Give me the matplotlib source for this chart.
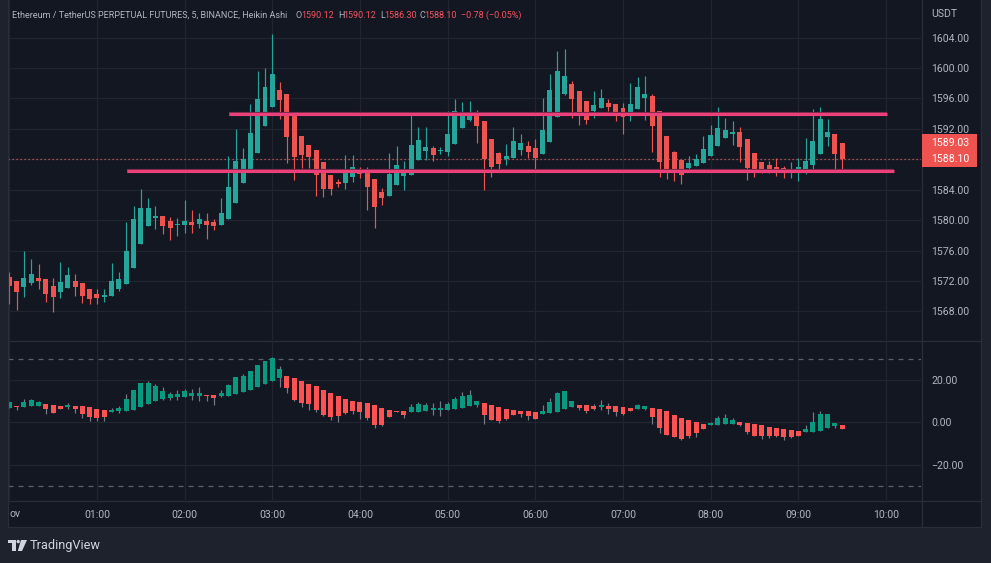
import matplotlib
matplotlib.use('Agg')
import matplotlib.pyplot as plt
from matplotlib.patches import Rectangle, Circle, Polygon
import numpy as np

plt.rcParams['font.family'] = ['Roboto', 'DejaVu Sans']

# ---------------- data ----------------
main_open = [1572.53, 1572.01, 1571.22, 1571.75, 1572.40, 1572.27, 1571.35, 1570.56, 1571.09, 1572.01,
             1571.75, 1570.96, 1570.30, 1569.91, 1570.04, 1570.96, 1571.61, 1573.71, 1576.87, 1579.23,
             1580.29, 1580.55, 1579.89, 1579.41, 1579.36, 1579.76, 1579.50, 1579.89, 1579.76, 1579.36,
             1580.15, 1582.25, 1584.88, 1586.46, 1588.82, 1592.37, 1594.87, 1597.10, 1596.58, 1593.82,
             1591.06, 1589.87, 1589.22, 1587.64, 1585.93, 1585.01, 1584.88, 1585.67, 1586.46, 1586.33,
             1585.41, 1583.70, 1583.17, 1584.62, 1585.80, 1585.93, 1587.90, 1589.09, 1589.48, 1589.04,
             1588.96, 1590.01, 1592.11, 1593.16, 1593.69, 1593.03, 1590.66, 1588.82, 1588.04, 1588.17,
             1589.22, 1589.74, 1589.48, 1588.69, 1590.27, 1593.56, 1596.58, 1597.89, 1596.97, 1595.66,
             1594.34, 1594.74, 1595.40, 1595.26, 1594.74, 1594.08, 1594.61, 1596.05, 1596.31, 1594.34,
             1591.06, 1588.96, 1587.90, 1586.85, 1587.12, 1587.51, 1588.43, 1589.74, 1590.80, 1591.32,
             1591.58, 1590.66, 1588.82, 1587.64, 1587.25, 1586.98, 1586.85, 1586.46, 1586.46, 1586.72,
             1587.25, 1588.69, 1590.93, 1591.32, 1590.12]
main_high = [1573.19, 1572.01, 1575.95, 1574.90, 1574.24, 1572.27, 1572.40, 1574.50, 1573.85, 1572.93,
             1571.75, 1570.96, 1570.96, 1570.96, 1574.37, 1573.19, 1579.76, 1581.86, 1584.10, 1582.91,
             1581.86, 1580.55, 1580.42, 1580.29, 1582.65, 1581.34, 1580.94, 1580.94, 1580.15, 1582.91,
             1588.43, 1591.98, 1589.48, 1595.26, 1599.60, 1599.99, 1604.46, 1598.15, 1596.58, 1593.82,
             1591.06, 1589.87, 1589.22, 1587.64, 1585.93, 1585.41, 1588.56, 1588.56, 1586.98, 1586.98,
             1585.41, 1584.23, 1588.82, 1589.75, 1587.77, 1593.82, 1592.24, 1592.24, 1589.75, 1589.61,
             1594.34, 1595.92, 1595.52, 1595.66, 1594.47, 1593.03, 1590.66, 1588.96, 1590.01, 1592.24,
             1591.32, 1590.40, 1590.66, 1596.05, 1599.20, 1602.23, 1602.49, 1598.28, 1596.97, 1595.66,
             1596.97, 1597.23, 1595.92, 1595.26, 1595.40, 1598.02, 1598.81, 1598.94, 1596.58, 1594.34,
             1591.06, 1589.09, 1587.90, 1588.43, 1588.69, 1591.06, 1592.50, 1594.87, 1593.42, 1593.03,
             1592.24, 1590.66, 1588.82, 1587.64, 1587.77, 1588.17, 1587.12, 1587.64, 1588.17, 1590.80,
             1594.61, 1594.87, 1593.29, 1591.32, 1590.12]
main_low = [1569.03, 1568.20, 1569.95, 1571.48, 1570.96, 1569.25, 1567.93, 1569.78, 1571.09, 1570.04,
            1569.12, 1568.99, 1568.99, 1569.25, 1570.04, 1570.69, 1571.61, 1573.71, 1576.87, 1579.23,
            1578.84, 1578.18, 1577.39, 1577.92, 1578.31, 1578.31, 1578.97, 1577.53, 1578.71, 1579.36,
            1580.15, 1582.25, 1584.88, 1586.46, 1588.82, 1592.37, 1594.87, 1593.29, 1587.51, 1585.28,
            1586.85, 1586.85, 1583.17, 1583.04, 1583.30, 1584.36, 1584.09, 1585.01, 1585.54, 1581.34,
            1578.97, 1581.99, 1583.17, 1584.62, 1583.96, 1585.93, 1587.90, 1587.90, 1587.77, 1588.69,
            1588.43, 1590.01, 1592.11, 1593.03, 1590.14, 1583.96, 1585.67, 1586.72, 1587.25, 1588.17,
            1588.56, 1588.17, 1586.33, 1588.69, 1590.27, 1593.56, 1596.45, 1593.42, 1592.50, 1592.64,
            1593.42, 1594.74, 1594.34, 1593.03, 1591.32, 1593.03, 1594.61, 1593.16, 1588.96, 1585.67,
            1585.41, 1585.15, 1584.75, 1586.59, 1587.12, 1587.51, 1588.43, 1589.74, 1590.80, 1589.88,
            1587.64, 1585.28, 1585.67, 1586.20, 1586.20, 1585.80, 1585.54, 1585.54, 1585.15, 1586.07,
            1586.72, 1588.69, 1589.75, 1586.46, 1586.30]
main_close = [1571.39, 1570.56, 1572.40, 1572.93, 1572.01, 1570.30, 1569.91, 1571.88, 1572.80, 1571.22,
              1570.04, 1569.64, 1569.78, 1570.17, 1572.01, 1572.27, 1575.95, 1580.15, 1581.60, 1581.60,
              1580.55, 1579.23, 1578.97, 1579.50, 1579.89, 1579.36, 1580.15, 1579.36, 1579.23, 1580.94,
              1584.36, 1587.77, 1588.04, 1591.45, 1595.92, 1597.50, 1599.20, 1595.79, 1590.93, 1588.30,
              1588.56, 1588.30, 1585.93, 1584.09, 1584.09, 1584.75, 1586.59, 1586.98, 1586.07, 1584.36,
              1581.73, 1582.91, 1586.07, 1587.25, 1586.20, 1589.88, 1590.53, 1589.61, 1588.56, 1589.13,
              1591.32, 1594.34, 1594.21, 1594.21, 1592.37, 1588.04, 1586.98, 1587.38, 1588.43, 1590.40,
              1590.14, 1588.96, 1588.17, 1591.85, 1597.10, 1599.60, 1598.94, 1595.92, 1594.21, 1593.16,
              1595.13, 1596.05, 1594.87, 1594.21, 1593.56, 1595.26, 1597.50, 1596.58, 1592.37, 1587.64,
              1586.72, 1586.59, 1585.93, 1587.51, 1588.04, 1589.35, 1591.19, 1592.11, 1591.85, 1591.58,
              1589.61, 1586.85, 1586.46, 1586.72, 1586.72, 1586.46, 1586.20, 1586.72, 1586.98, 1587.77,
              1590.40, 1593.29, 1591.58, 1588.69, 1588.10]

osc_open = [6.91, 7.70, 7.23, 7.70, 7.70, 8.65, 8.17, 7.70, 7.23, 7.70,
            7.70, 7.23, 6.28, 5.81, 4.87, 5.34, 5.34, 5.81, 7.23, 8.65,
            10.07, 11.01, 11.49, 11.96, 11.96, 12.43, 12.43, 12.90, 12.90, 12.43,
            12.43, 13.38, 14.32, 15.27, 16.69, 18.10, 19.52, 20.94, 21.89, 20.94,
            19.52, 18.10, 17.16, 15.27, 13.85, 12.43, 11.01, 10.07, 9.59, 9.12,
            8.17, 6.76, 5.81, 5.34, 5.34, 4.87, 4.87, 5.34, 5.81, 5.81,
            5.81, 6.28, 6.76, 7.70, 8.17, 9.12, 8.17, 7.23, 6.28, 5.81,
            5.34, 5.34, 4.87, 3.92, 4.39, 4.87, 6.28, 7.23, 8.17, 8.17,
            7.70, 7.23, 7.70, 7.70, 7.23, 6.76, 6.28, 6.28, 6.76, 6.28,
            5.34, 3.45, 2.03, 1.08, 0.14, -0.81, -1.28, -1.28, -0.81, -0.81,
            0.14, -0.34, -0.81, -1.28, -2.23, -2.70, -3.17, -3.64, -4.12, -4.59,
            -4.59, -4.12, -2.70, -1.75, -1.28]
osc_high = [9.59, 7.70, 11.01, 11.01, 10.07, 8.65, 8.17, 7.70, 9.12, 7.70,
            7.70, 7.23, 6.28, 5.81, 6.76, 7.70, 13.38, 15.27, 18.58, 19.52,
            18.10, 16.69, 14.32, 15.27, 15.74, 15.74, 16.69, 12.90, 12.90, 15.27,
            18.10, 21.42, 22.83, 24.25, 27.09, 28.98, 30.87, 26.61, 21.89, 20.94,
            19.52, 18.10, 17.16, 15.27, 13.85, 12.43, 11.01, 10.07, 9.59, 9.12,
            8.17, 6.76, 5.81, 5.34, 5.34, 8.65, 9.59, 9.12, 9.12, 10.07,
            9.59, 11.96, 14.32, 15.27, 10.07, 9.12, 8.17, 7.23, 6.28, 5.81,
            5.34, 5.34, 4.87, 8.17, 11.49, 14.32, 14.80, 10.07, 8.17, 8.17,
            8.65, 10.54, 9.12, 7.70, 7.23, 6.76, 8.65, 7.70, 6.76, 6.28,
            5.34, 3.45, 2.03, 1.08, 0.14, -0.81, 0.14, 2.97, 3.92, 2.03,
            0.14, -0.34, -0.81, -1.28, -2.23, -2.70, -3.17, -3.64, -4.12, -1.28,
            4.87, 5.34, 3.92, -0.34, -1.28]
osc_low = [6.91, 5.81, 7.23, 7.70, 7.70, 3.92, 4.39, 6.28, 6.28, 4.39,
           2.03, 0.61, 0.61, 0.61, 4.87, 4.39, 5.34, 5.81, 7.23, 8.65,
           10.07, 10.54, 10.54, 10.54, 11.96, 10.54, 10.07, 10.07, 8.17, 11.96,
           12.43, 13.38, 14.32, 15.27, 16.69, 18.10, 19.52, 16.69, 13.85, 10.07,
           7.23, 5.81, 4.87, 2.97, 1.08, 0.14, 3.92, 3.92, 1.56, 1.08,
           -2.70, -1.75, 2.50, 4.87, 2.03, 4.87, 4.87, 5.34, 3.45, 2.97,
           5.81, 6.28, 6.76, 7.70, 7.23, -0.81, 1.08, -0.34, 1.08, 3.45,
           2.50, 1.08, 1.56, 3.92, 4.39, 4.87, 6.28, 7.23, 5.81, 4.39,
           5.81, 5.81, 3.92, 2.97, 3.45, 5.34, 6.28, 5.81, -0.81, -5.06,
           -6.01, -6.95, -8.37, -7.43, -6.95, -3.17, -1.28, -1.28, -0.81, -0.81,
           -1.75, -5.53, -6.48, -7.90, -7.43, -6.95, -8.37, -7.43, -6.48, -4.59,
           -4.59, -4.12, -2.70, -2.70, -3.17]
osc_close = [9.59, 7.23, 9.59, 10.54, 9.59, 6.28, 4.39, 6.28, 8.17, 6.28,
             3.92, 2.50, 2.03, 2.50, 5.81, 6.76, 11.01, 15.27, 18.58, 18.58,
             17.16, 14.80, 13.38, 13.38, 14.80, 13.85, 13.85, 12.43, 11.49, 13.85,
             17.63, 21.42, 21.89, 24.25, 27.09, 28.98, 30.40, 25.20, 16.21, 10.54,
             9.12, 8.65, 5.81, 3.45, 2.50, 2.97, 4.39, 5.34, 4.87, 2.03,
             -1.28, -1.28, 2.50, 4.87, 3.45, 7.23, 8.65, 8.17, 6.76, 6.76,
             8.65, 11.01, 12.43, 12.90, 10.07, 3.45, 1.08, 0.61, 1.56, 3.45,
             3.92, 2.97, 1.56, 5.34, 9.59, 13.85, 14.80, 10.07, 6.76, 5.34,
             6.28, 8.17, 6.28, 4.87, 3.92, 5.34, 8.17, 7.70, 2.50, -2.70,
             -6.01, -6.95, -7.90, -6.48, -5.06, -3.17, -0.34, 2.03, 2.03, 1.08,
             -1.28, -4.59, -6.48, -6.48, -6.48, -6.48, -6.95, -6.95, -6.48, -3.17,
             0.14, 3.92, 3.92, -0.34, -3.17]

price_ticks = [1568, 1572, 1576, 1580, 1584, 1588, 1592, 1596, 1600, 1604]
osc_ticks = [20, 0, -20]
osc_tick_labels = ['20.00', '0.00', '\u221220.00']
osc_bands = [30, -30]
time_tick_idx = [12, 24, 36, 48, 60, 72, 84, 96, 108, 120]
time_tick_labels = ['01:00', '02:00', '03:00', '04:00', '05:00', '06:00', '07:00', '08:00', '09:00', '10:00']
grid_idx = [0, 12, 24, 36, 48, 60, 72, 84, 96, 108, 120]
level_prices = [1593.9, 1586.4]
level_start_idx = [30.1, 16.1]
level_end_idx = [120.1, 121.1]
last_close = 1588.10
last_price = 1589.03

title = 'Ethereum / TetherUS PERPETUAL FUTURES, 5, BINANCE, Heikin Ashi'
ohlc_labels = ['O', 'H', 'L', 'C']
ohlc_values = ['1590.12', '1590.12', '1586.30', '1588.10']
change_text = '\u22120.78 (\u22120.05%)'

# ---------------- style ----------------
W, H = 991, 563
BG_OUT = '#1e222d'
BG = '#131722'
BORDER = '#2a2e39'
GRID = '#21252f'
TXT = '#b2b5be'
UP, DN = '#26a69a', '#ef5350'
OUP, ODN = '#089981', '#ff5252'
LEVEL = '#ec407a'

fig = plt.figure(figsize=(W / 100, H / 100), dpi=100)
fig.patch.set_facecolor(BG_OUT)


def px_axes(x0, y0, x1, y1, **kw):
    return fig.add_axes([x0 / W, 1 - y1 / H, (x1 - x0) / W, (y1 - y0) / H], **kw)


# background + overlay in pixel coords
bg = px_axes(0, 0, W, H, zorder=-5)
bg.set_xlim(0, W); bg.set_ylim(H, 0); bg.axis('off')
bg.add_patch(Rectangle((8, 0), 973, 527, facecolor=BG, edgecolor='none'))

ov = px_axes(0, 0, W, H, zorder=10)
ov.set_xlim(0, W); ov.set_ylim(H, 0); ov.axis('off')
ov.patch.set_alpha(0)

XL = (-0.178, 124.79)
PX_PER_PT = 100 / 72.0


def candles(ax, o, h, l, c, up, dn, wick_up, wick_dn, width, min_h, wlw):
    o, h, l, c = map(np.asarray, (o, h, l, c))
    x = np.arange(len(o))
    isup = c >= o
    ax.vlines(x, l, h, colors=np.where(isup, wick_up, wick_dn), lw=wlw, zorder=3)
    bottom = np.minimum(o, c)
    height = np.maximum(np.abs(c - o), min_h)
    ax.bar(x, height, width, bottom, color=np.where(isup, up, dn), linewidth=0, zorder=4)


# ---- main pane ----
ax = px_axes(8, 0, 921, 340)
ax.set_facecolor(BG)
ax.set_xlim(*XL)
ax.set_ylim(1564.25, 1608.93)
for s in ax.spines.values():
    s.set_visible(False)
for p in price_ticks:
    ax.axhline(p, color=GRID, lw=0.9, zorder=1)
for g in grid_idx:
    ax.axvline(g, color=GRID, lw=0.9, zorder=1)
candles(ax, main_open, main_high, main_low, main_close, UP, DN, UP, DN, 0.68, 0.12, 0.85)
for lp, a, b in zip(level_prices, level_start_idx, level_end_idx):
    ax.plot([a, b], [lp, lp], color='#7d2a4c', lw=3.0, solid_capstyle='butt', zorder=5)
    ax.plot([a, b], [lp, lp], color=LEVEL, lw=2.2, solid_capstyle='butt', zorder=6)
ax.axhline(last_close, color=DN, lw=0.9, ls=(0, (1, 2.2)), zorder=2)
ax.yaxis.tick_right()
ax.set_yticks(price_ticks)
ax.set_yticklabels([f'{p:.2f}' for p in price_ticks])
ax.set_xticks([])
ax.tick_params(axis='y', length=0, pad=7.3, colors=TXT, labelsize=7.6)

# ---- oscillator pane ----
ax2 = px_axes(8, 341, 921, 500)
ax2.set_facecolor(BG)
ax2.set_xlim(*XL)
ax2.set_ylim(-36.74, 38.44)
for s in ax2.spines.values():
    s.set_visible(False)
for t in osc_ticks:
    ax2.axhline(t, color=GRID, lw=0.9, zorder=1)
for g in grid_idx:
    ax2.axvline(g, color=GRID, lw=0.9, zorder=1)
for b in osc_bands:
    ax2.axhline(b, color='#5d606b', lw=0.9, ls=(0, (4, 4)), zorder=2)
candles(ax2, osc_open, osc_high, osc_low, osc_close, OUP, ODN, '#787b86', '#787b86', 0.68, 0.35, 0.85)
ax2.yaxis.tick_right()
ax2.set_yticks(osc_ticks)
ax2.set_yticklabels(osc_tick_labels)
ax2.set_xticks(time_tick_idx)
ax2.set_xticklabels(time_tick_labels)
ax2.tick_params(axis='y', length=0, pad=7.3, colors=TXT, labelsize=7.6)
ax2.tick_params(axis='x', length=0, pad=7.5, colors=TXT, labelsize=7.6)

# ---- borders ----
bc = dict(color=BORDER, lw=0.9, zorder=1)
ov.plot([8, 981], [340.5, 340.5], **bc)
ov.plot([8, 981], [500.5, 500.5], **bc)
ov.plot([8, 981], [527, 527], **bc)
ov.plot([921.5, 921.5], [0, 527], **bc)
ov.plot([8, 8], [0, 527], **bc)
ov.plot([981, 981], [0, 527], **bc)

# ---- texts ----
renderer = fig.canvas.get_renderer()


def fit_size(s, target_w, base=10, **kw):
    t = ov.text(0, 0, s, fontsize=base, **kw)
    w = t.get_window_extent(renderer=renderer).width
    t.remove()
    return base * target_w / w


hs = fit_size(title, 276.7)
ov.text(11.7, 15, title, fontsize=hs, color=TXT, va='center', ha='left')
lx = [295.7, 338.3, 380.0, 419.3]
vx = [301.0, 343.7, 384.0, 424.7]
for L, V, a, b in zip(ohlc_labels, ohlc_values, lx, vx):
    ov.text(a, 15, L, fontsize=hs, color=TXT, va='center', ha='left')
    ov.text(b, 15, V, fontsize=hs, color='#f7525f', va='center', ha='left')
ov.text(461, 15, change_text, fontsize=hs, color='#f7525f', va='center', ha='left')

ov.text(931, 14, 'USDT', fontsize=7.6, color=TXT, va='center', ha='left')
ov.text(9, 514, 'ov', fontsize=7.6, color=TXT, va='center', ha='left')

# price label box
ov.add_patch(Rectangle((921.5, 134), 55.5, 33, facecolor=DN, edgecolor='none', zorder=5))
ov.text(931, 142.5, f'{last_price:.2f}', fontsize=7.6, color='white', va='center', ha='left', zorder=6)
ov.text(931, 159.3, f'{last_close:.2f}', fontsize=7.6, color='white', va='center', ha='left', zorder=6)

# TradingView logo
LOGO = '#d1d4dc'
ov.add_patch(Rectangle((8, 540), 7.5, 3, facecolor=LOGO, edgecolor='none'))
ov.add_patch(Rectangle((12, 540), 3.5, 11, facecolor=LOGO, edgecolor='none'))
ov.add_patch(Circle((18.2, 541.6), 1.7, facecolor=LOGO, edgecolor='none'))
ov.add_patch(Polygon([(21, 540), (27, 540), (22, 551), (17.8, 551)], closed=True, facecolor=LOGO, edgecolor='none'))
ts = fit_size('TradingView', 71)
ov.text(29.7, 545.5, 'TradingView', fontsize=ts, color=LOGO, va='center', ha='left')

fig.savefig('out.png', dpi=100, facecolor=fig.get_facecolor())
